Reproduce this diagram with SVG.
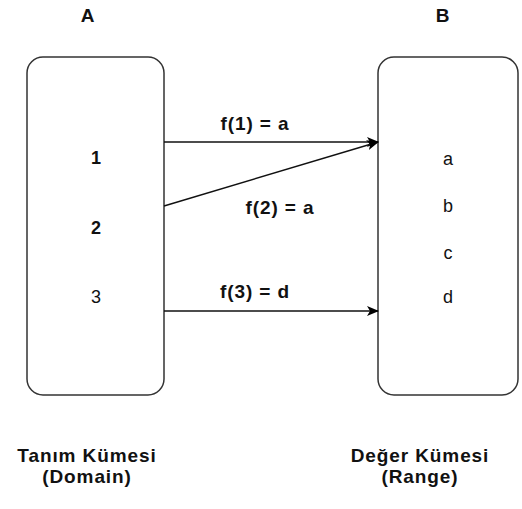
<svg xmlns="http://www.w3.org/2000/svg" width="522" height="509" viewBox="0 0 522 509">
<defs>
<marker id="ah" markerWidth="12" markerHeight="10" refX="11" refY="5" orient="auto" markerUnits="userSpaceOnUse">
<path d="M0,0 L12,5 L0,10 L3,5 Z" fill="#000"/>
</marker>
</defs>
<style>
.box{fill:#fff;stroke:#333;stroke-width:1.5}
.t{font-family:"Liberation Sans",Arial,sans-serif;fill:#111;text-anchor:middle;dominant-baseline:central}
.b{font-weight:bold;font-size:19px;letter-spacing:0.9px}
.d{font-weight:bold;font-size:18px}
.n{font-size:18px}
.edge{stroke:#111;stroke-width:1.5;fill:none;marker-end:url(#ah)}
</style>
<rect width="522" height="509" fill="#fff"/>
<g id="labelA"><text class="t b" x="88" y="15">A</text></g>
<g id="labelB"><text class="t b" x="443" y="15">B</text></g>
<g id="domain">
<rect class="box" x="27" y="57" width="137" height="338" rx="16"/>
<text class="t d" x="96" y="158">1</text>
<text class="t d" x="96" y="228">2</text>
<text class="t n" x="96" y="297">3</text>
</g>
<g id="range">
<rect class="box" x="378" y="57" width="140" height="338" rx="16"/>
<text class="t n" x="448" y="159">a</text>
<text class="t n" x="448" y="206">b</text>
<text class="t n" x="448" y="253">c</text>
<text class="t n" x="448" y="297">d</text>
</g>
<g id="connectors">
<line class="edge" x1="164" y1="142" x2="378" y2="142"/>
<line class="edge" x1="164" y1="206" x2="378" y2="142"/>
<line class="edge" x1="164" y1="311" x2="378" y2="311"/>
<text class="t b" x="255" y="123">f(1) = a</text>
<text class="t b" x="280" y="207">f(2) = a</text>
<text class="t b" x="255" y="291">f(3) = d</text>
</g>
<g id="captionDomain">
<text class="t b" x="87" y="455">Tanım Kümesi</text>
<text class="t b" x="87" y="476">(Domain)</text>
</g>
<g id="captionRange">
<text class="t b" x="420" y="455">Değer Kümesi</text>
<text class="t b" x="420" y="476">(Range)</text>
</g>
</svg>
